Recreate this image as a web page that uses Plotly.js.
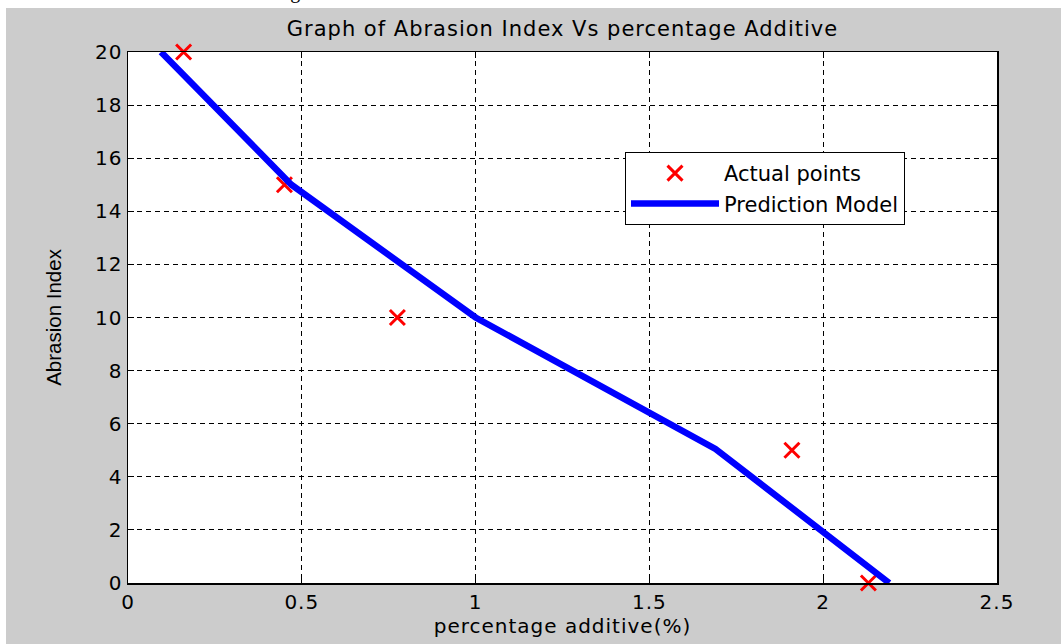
<!DOCTYPE html>
<html>
<head>
<meta charset="utf-8">
<script src="https://cdn.plot.ly/plotly-3.0.1.min.js"></script>
<style>
html,body{margin:0;padding:0;background:#fff;}
#chart{width:1061px;height:644px;}
#chart text.gtitle, #chart text.xtitle, #chart .xtick text, #chart .ytick text {letter-spacing:1px;}
</style>
</head>
<body>
<div id="chart"></div>
<script>
// Data
var actualX = [0.16, 0.45, 0.775, 1.91, 2.13];
var actualY = [20, 15, 10, 5, 0];
var modelX = [0.095, 0.47, 1.0, 1.69, 2.19];
var modelY = [20, 15, 10, 5.05, 0];
var xTicks = [0, 0.5, 1, 1.5, 2, 2.5];
var yTicks = [0, 2, 4, 6, 8, 10, 12, 14, 16, 18, 20];

var W = 1061, H = 644, L = 128, R = 64, T = 52, B = 61;
var pw = W - L - R, ph = H - T - B;
function px2x(p){ return (p - L) / pw; }
function py2y(p){ return 1 - (p - T) / ph; }

var FONT = 'DejaVu Sans, Arial, sans-serif';

var traces = [
  {x: actualX, y: actualY, mode: 'markers', name: 'Actual points',
   marker: {symbol: 'x-thin', size: 15, color: '#ff0000', line: {color: '#ff0000', width: 3}},
   cliponaxis: false},
  {x: modelX, y: modelY, mode: 'lines', name: 'Prediction Model',
   line: {color: '#0000ff', width: 6.5}}
];

var axCommon = {
  showgrid: true, gridcolor: '#000', gridwidth: 1, griddash: '5px,4px',
  showline: true, linecolor: '#000', linewidth: 1.5, mirror: 'ticks',
  ticks: 'inside', ticklen: 6, tickcolor: '#000', zeroline: false,
  tickfont: {family: FONT, size: 20, color: '#000'}
};

var layout = {
  width: W, height: H,
  margin: {l: L, r: R, t: T, b: B, pad: 0},
  paper_bgcolor: '#cccccc', plot_bgcolor: '#ffffff',
  showlegend: true,
  title: {text: 'Graph of Abrasion Index Vs percentage Additive',
          font: {family: FONT, size: 21, color: '#000'},
          x: 0.5, xref: 'paper', y: 1 - 29 / H, yanchor: 'middle'},
  xaxis: Object.assign({}, axCommon, {
    range: [0, 2.5], tickvals: xTicks, ticktext: xTicks.map(String),
    title: {text: 'percentage additive(%)', standoff: 6,
            font: {family: FONT, size: 20, color: '#000'}}
  }),
  yaxis: Object.assign({}, axCommon, {
    range: [0, 20], tickvals: yTicks, ticktext: yTicks.map(String),
    title: {text: 'Abrasion Index', standoff: 30,
            font: {family: 'Liberation Sans, Arial, sans-serif', size: 20.5, color: '#000'}}
  }),
  legend: {x: px2x(625), y: py2y(152), xanchor: 'left', yanchor: 'top',
           bgcolor: '#ffffff', bordercolor: '#000', borderwidth: 1,
           font: {family: FONT, size: 21, color: '#000'},
           itemwidth: 88, tracegroupgap: 0},
  shapes: [
    {type: 'rect', xref: 'paper', yref: 'paper', layer: 'below',
     x0: px2x(-2), x1: px2x(6), y0: py2y(H + 2), y1: py2y(-2),
     fillcolor: '#ffffff', line: {width: 0}},
    {type: 'rect', xref: 'paper', yref: 'paper', layer: 'below',
     x0: px2x(-2), x1: px2x(W + 2), y0: py2y(8), y1: py2y(-2),
     fillcolor: '#ffffff', line: {width: 0}}
  ],
  annotations: [
    {text: 'Abrasion Index in terms of Percentage Additive.', xref: 'paper', yref: 'paper',
     x: px2x(390), y: py2y(-8), xanchor: 'right', yanchor: 'middle', showarrow: false,
     font: {family: 'Liberation Serif, Times New Roman, serif', size: 20, color: '#000'}}
  ]
};

Plotly.newPlot('chart', traces, layout, {displayModeBar: false, staticPlot: true});
</script>
</body>
</html>
